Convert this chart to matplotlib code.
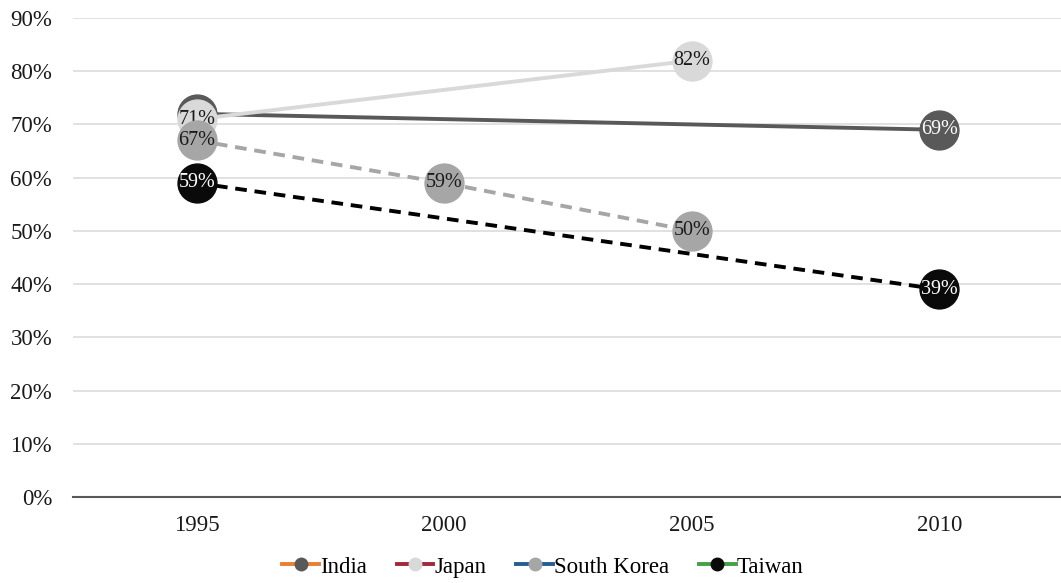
import matplotlib
matplotlib.use("Agg")
import matplotlib.pyplot as plt
from matplotlib.lines import Line2D

years = ["1995", "2000", "2005", "2010"]
y_ticks = [0, 10, 20, 30, 40, 50, 60, 70, 80, 90]

india = [72, None, None, 69]
japan = [71, None, 82, None]
south_korea = [67, 59, 50, None]
taiwan = [59, None, None, 39]

india_labels = [None, None, None, "69%"]
japan_labels = ["71%", None, "82%", None]
south_korea_labels = ["67%", "59%", "50%", None]
taiwan_labels = ["59%", None, None, "39%"]

series = [
    ("India", india, india_labels, "#595959", "-", "#595959", "white", "#ED7D31"),
    ("Japan", japan, japan_labels, "#D9D9D9", "-", "#D9D9D9", "#1a1a1a", "#9E2A3B"),
    ("South Korea", south_korea, south_korea_labels, "#A6A6A6", (0, (3, 2)), "#A6A6A6", "#1a1a1a", "#255E91"),
    ("Taiwan", taiwan, taiwan_labels, "#000000", (0, (3, 2)), "#0a0a0a", "white", "#43A047"),
]

plt.rcParams["font.family"] = ["Liberation Serif", "DejaVu Serif"]

fig = plt.figure(figsize=(10.61, 5.83), dpi=100)
ax = fig.add_axes([73 / 1061, 86 / 583, 990 / 1061, 479 / 583])

for i, (name, vals, labels, lc, ls, mc, tc, _) in enumerate(series):
    pts = [(x, v) for x, v in enumerate(vals) if v is not None]
    xs = [p[0] for p in pts]
    ys = [p[1] / 100 for p in pts]
    z = 3 + i * 2
    ax.plot(xs, ys, color=lc, linestyle=ls, linewidth=2.8, zorder=z)
    ax.plot(xs, ys, linestyle="none", marker="o", markersize=28,
            markerfacecolor=mc, markeredgecolor=mc, zorder=z)
    for x, v in enumerate(vals):
        if v is not None and labels[x]:
            ax.text(x, v / 100, labels[x], ha="center", va="center",
                    fontsize=14.5, color=tc, zorder=z + 1)

ax.set_xlim(-0.5, 3.5)
ax.set_ylim(0, 0.9)
ax.set_xticks(range(len(years)))
ax.set_xticklabels(years)
ax.set_yticks([t / 100 for t in y_ticks])
ax.set_yticklabels([f"{t}%" for t in y_ticks])
ax.tick_params(axis="both", length=0, labelsize=16.5, colors="#1a1a1a")
ax.tick_params(axis="y", pad=15)
ax.tick_params(axis="x", pad=13)
ax.grid(axis="y", color="#D9D9D9", linewidth=1.1, zorder=0)
ax.set_axisbelow(True)
for s in ["top", "right", "left"]:
    ax.spines[s].set_visible(False)
ax.spines["bottom"].set_color("#595959")
ax.spines["bottom"].set_linewidth(1.5)

handles = [
    Line2D([0], [0], color=leg_c, linewidth=2.8, marker="o", markersize=9,
           markerfacecolor=mc, markeredgecolor=mc)
    for (_, _, _, _, _, mc, _, leg_c) in series
]
fig.legend(handles, [s[0] for s in series], loc="center", bbox_to_anchor=(543 / 1061, 1 - 567 / 583),
           ncol=4, frameon=False, fontsize=16.5, handlelength=1.6, handletextpad=0.05,
           columnspacing=1.3)

fig.savefig("out.png", dpi=100)
